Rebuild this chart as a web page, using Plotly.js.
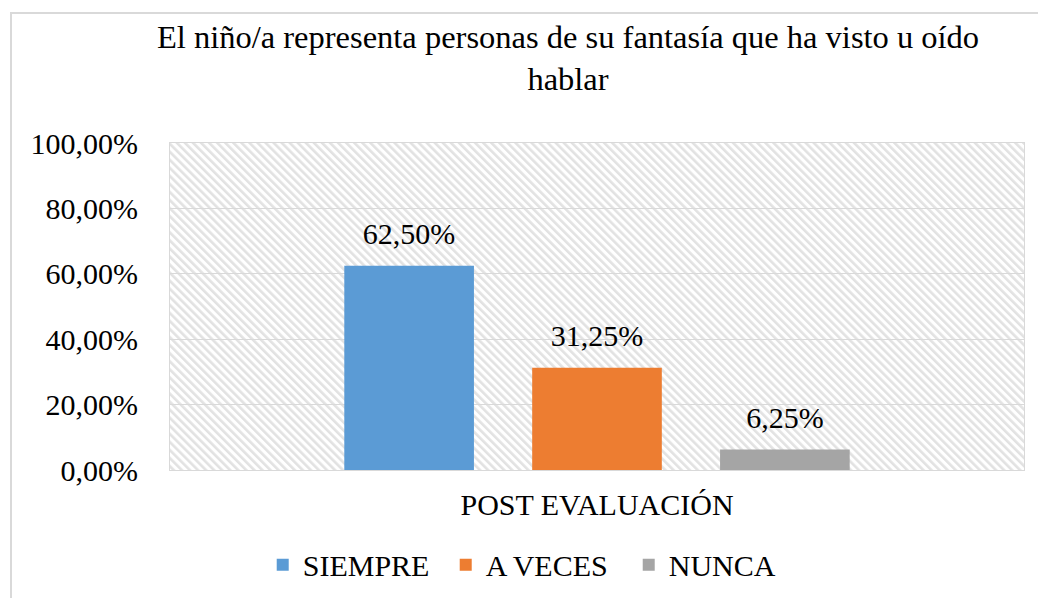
<!DOCTYPE html>
<html>
<head>
<meta charset="utf-8">
<script src="https://cdn.plot.ly/plotly-3.0.1.min.js"></script>
<style>
html,body{margin:0;padding:0;background:#fff;}
#wrap{position:relative;width:1038px;height:598px;overflow:hidden;}
#frame{position:absolute;left:10px;top:12px;width:1100px;height:700px;border:2px solid #d9d9d9;box-sizing:border-box;pointer-events:none;}
#chart{position:absolute;left:0;top:0;width:1038px;height:598px;}
</style>
</head>
<body>
<div id="wrap"><div id="chart"></div><div id="frame"></div></div>
<script>
const categories = ['POST EVALUACIÓN'];
const seriesNames = ['SIEMPRE', 'A VECES', 'NUNCA'];
const seriesValues = [[0.625], [0.3125], [0.0625]];
const seriesColors = ['#5b9bd5', '#ed7d31', '#a5a5a5'];
const yTickVals = [0, 0.2, 0.4, 0.6, 0.8, 1.0];

const FONT = '"Liberation Serif", "Times New Roman", serif';

const traces = seriesNames.map((name, i) => ({
  type: 'bar',
  name: name,
  x: categories,
  y: seriesValues[i],
  marker: {color: seriesColors[i]},
  texttemplate: '%{y:.2%}',
  textposition: 'outside',
  textfont: {family: FONT, size: 30, color: '#000'},
  cliponaxis: false,
  hoverinfo: 'none'
}));

const layout = {
  width: 1038, height: 598,
  separators: ',.',
  paper_bgcolor: 'rgba(0,0,0,0)',
  plot_bgcolor: '#ffffff',
  font: {family: FONT, size: 30, color: '#000'},
  title: {
    text: 'El niño/a representa personas de su fantasía que ha visto u oído<br>hablar',
    font: {family: FONT, size: 32.5, color: '#000'},
    x: 568/1038, xanchor: 'center', xref: 'container',
    y: 1 - 48/598, yanchor: 'middle', yref: 'container'
  },
  margin: {l: 170, r: 14, t: 143, b: 128, pad: 0, autoexpand: false},
  barmode: 'group',
  bargap: 0.34,
  bargroupgap: 0.31,
  showlegend: true,
  legend: {
    orientation: 'h', x: 0.43, xanchor: 'center', y: -0.21, yanchor: 'top',
    font: {family: FONT, size: 30, color: '#000'},
    traceorder: 'normal',
    entrywidth: 138
  },
  xaxis: {
    automargin: false,
    showgrid: false, zeroline: false,
    showline: true, mirror: true, linecolor: '#d9d9d9', linewidth: 1,
    ticks: 'outside', ticklen: 8, tickcolor: 'rgba(0,0,0,0)',
    tickfont: {family: FONT, size: 30, color: '#000'}
  },
  yaxis: {
    automargin: false,
    range: [0, 1], tickvals: yTickVals, tickformat: '.2%',
    showgrid: true, gridcolor: '#d9d9d9', gridwidth: 1,
    zeroline: false,
    showline: true, mirror: true, linecolor: '#d9d9d9', linewidth: 1,
    ticks: 'outside', ticklen: 25, tickcolor: 'rgba(0,0,0,0)',
    tickfont: {family: FONT, size: 30, color: '#000'}
  }
};

Plotly.newPlot('chart', traces, layout, {staticPlot: true}).then(gd => {
  const svg = gd.querySelector('svg.main-svg');
  const NS = 'http://www.w3.org/2000/svg';
  let defs = svg.querySelector('defs');
  if (!defs) { defs = document.createElementNS(NS, 'defs'); svg.insertBefore(defs, svg.firstChild); }
  const pat = document.createElementNS(NS, 'pattern');
  pat.setAttribute('id', 'bghatch');
  pat.setAttribute('patternUnits', 'userSpaceOnUse');
  pat.setAttribute('width', '5.7');
  pat.setAttribute('height', '5.7');
  pat.setAttribute('patternTransform', 'rotate(-45)');
  const r1 = document.createElementNS(NS, 'rect');
  r1.setAttribute('width', '5.7'); r1.setAttribute('height', '5.7'); r1.setAttribute('fill', '#ffffff');
  const r2 = document.createElementNS(NS, 'rect');
  r2.setAttribute('width', '2.6'); r2.setAttribute('height', '5.7'); r2.setAttribute('fill', '#e2e2e2');
  pat.appendChild(r1); pat.appendChild(r2);
  defs.appendChild(pat);
  gd.querySelectorAll('.bglayer rect.bg').forEach(r => { r.style.fill = 'url(#bghatch)'; });
  // lift the value labels a little above the bars, as in the reference
  gd.querySelectorAll('.barlayer text.bartext').forEach(t => {
    const tr = t.getAttribute('transform') || '';
    t.setAttribute('transform', 'translate(0,-13) ' + tr);
  });
});
</script>
</body>
</html>
